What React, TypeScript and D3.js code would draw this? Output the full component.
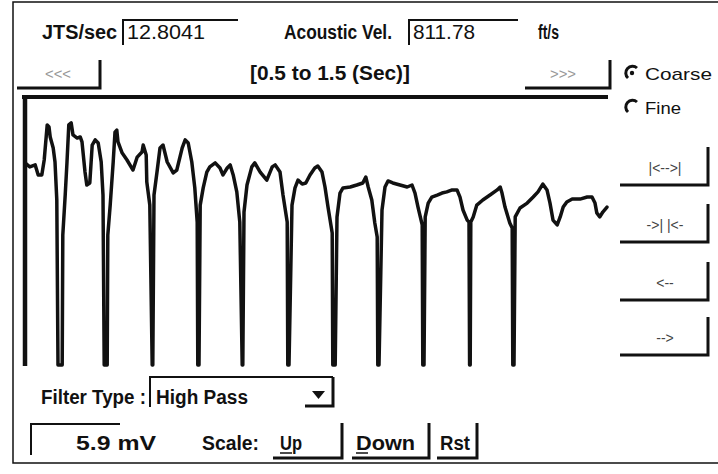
import * as d3 from "d3";
import React from "react";

// acoustic trace: time in ms, amplitude in mV (dips clip at -6)
const timesMs = [
  500, 508, 517, 522, 528, 532, 537, 540, 542, 547, 550, 553, 555, 562, 563, 567, 570, 573, 577, 580,
  587, 592, 595, 600, 603, 608, 612, 617, 622, 627, 630, 632, 637, 638, 642, 647, 650, 653, 655, 662,
  670, 680, 687, 695, 697, 702, 703, 708, 712, 713, 715, 720, 725, 730, 737, 747, 753, 762, 767, 772,
  778, 783, 787, 788, 790, 792, 797, 803, 808, 817, 825, 830, 837, 842, 847, 853, 858, 862, 863, 865,
  870, 878, 883, 892, 903, 912, 917, 925, 930, 937, 938, 940, 945, 950, 955, 962, 968, 975, 983, 988,
  995, 1000, 1005, 1012, 1013, 1017, 1020, 1025, 1030, 1042, 1053, 1063, 1068, 1072, 1078, 1083, 1087, 1088, 1090, 1095,
  1100, 1105, 1113, 1125, 1137, 1145, 1150, 1155, 1162, 1163, 1165, 1167, 1172, 1178, 1187, 1195, 1203, 1212, 1220, 1225,
  1230, 1237, 1240, 1241, 1242, 1243, 1247, 1253, 1263, 1275, 1287, 1292, 1295, 1300, 1308, 1312, 1313, 1315, 1317, 1325,
  1337, 1347, 1355, 1363, 1370, 1375, 1380, 1387, 1392, 1397, 1403, 1412, 1425, 1437, 1445, 1450, 1453, 1458, 1463, 1470,
];
const amplitudeMv = [
  3.05, 2.87, 2.96, 2.51, 2.51, 3.18, 4.75, 4.66, 4.21, 3.72, 3.09, 1.39, -6, -6, -0.18, 1.61, 3.09, 4.75, 4.84, 4.3,
  4.16, 4.21, 3.99, 2.64, 2.06, 2.15, 3.85, 4.08, 3.94, 3.09, 1.61, -6, -6, -0.18, 1.16, 3.09, 4.43, 4.52, 3.99, 3.49,
  3.18, 2.73, 3.31, 3.54, 3.85, 3.4, 2.19, 1.16, -6, -6, 1.61, 2.64, 3.72, 3.85, 3.09, 2.6, 2.73, 3.72, 4.08, 3.94,
  3.09, 1.93, 0.4, -6, -6, 1.16, 1.93, 2.64, 2.87, 3.05, 2.82, 2.51, 2.82, 2.96, 2.51, 1.75, 0.4, -6, -6, 0.85,
  2.06, 2.87, 3.05, 2.64, 2.28, 2.87, 2.96, 2.64, 1.61, 0.4, -6, -6, 1.16, 1.93, 2.28, 2.1, 2.15, 2.51, 2.82, 2.91,
  2.64, 1.97, 1.07, -0.09, -6, -6, 0.63, 1.7, 1.93, 1.97, 2.06, 2.15, 2.42, 1.97, 1.39, 0.36, -0.27, -6, -6, 0.94,
  1.97, 2.24, 2.15, 2.06, 1.97, 2.06, 1.7, 1.07, 0.27, -6, -6, 0.63, 1.25, 1.52, 1.61, 1.7, 1.75, 1.84, 1.84, 1.52,
  0.94, 0.49, 0.4, -6, -6, 0.4, 0.63, 1.16, 1.39, 1.61, 1.84, 1.97, 1.7, 1.07, 0.36, 0.13, -6, -6, 0.63, 1.03,
  1.25, 1.52, 1.75, 2.1, 1.84, 1.25, 0.49, 0.27, 0.63, 1.07, 1.3, 1.43, 1.43, 1.52, 1.52, 1.25, 0.81, 0.63, 0.85, 1.07,
];

// readouts shown around the plot
const jtsPerSec = "12.8041";
const acousticVel = "811.78";
const windowSec = [0.5, 1.5];
const scaleMv = 5.9;
const filterType = "High Pass";

const FONT = "'Liberation Sans', Arial, sans-serif";
const INK = "#111";

function Label({ x, y, w, size = 20, weight = 700, fill = INK, children }: any) {
  return (
    <text
      x={x}
      y={y}
      fontFamily={FONT}
      fontSize={size}
      fontWeight={weight}
      fill={fill}
      textLength={w}
      lengthAdjust="spacingAndGlyphs"
    >
      {children}
    </text>
  );
}

// raised win3.x style button: only the dark right/bottom edges survived the scan
function Btn({ x0, x1, y0, y1 }: any) {
  return (
    <path d={`M${x1},${y0} V${y1} H${x0}`} fill="none" stroke={INK} strokeWidth={3} />
  );
}

// sunken text box: dark top/left edges
function Box({ x0, x1, y0, y1 }: any) {
  return (
    <path d={`M${x0},${y1} V${y0} H${x1}`} fill="none" stroke={INK} strokeWidth={2} />
  );
}

export default function App() {
  const width = 718;
  const height = 474;

  const x = d3.scaleLinear().domain([500, 1500]).range([25, 625]);
  const y = d3.scaleLinear().domain([-6, 6]).range([365, 97]);

  const pts = timesMs.map((t, i) => [t, amplitudeMv[i]] as [number, number]);
  const line = d3
    .line<[number, number]>()
    .x((d) => x(d[0]))
    .y((d) => y(d[1]));

  const rightButtons = [
    { label: "|<-->|", y: 185 },
    { label: "->| |<-", y: 242 },
    { label: "<--", y: 300 },
    { label: "-->", y: 355 },
  ];

  return (
    <svg
      width={width}
      height={height}
      viewBox={`0 0 ${width} ${height}`}
      style={{ position: "absolute", left: 0, top: 0, background: "#fff" }}
    >
      {/* outer frame */}
      <path d={`M718,2 H13 V463 H718`} fill="none" stroke={INK} strokeWidth={1.5} />

      {/* row 1: readouts */}
      <Label x={42} y={39} w={75}>JTS/sec</Label>
      <Box x0={123} x1={238} y0={20} y1={45} />
      <Label x={127} y={39} w={78} weight={400}>{jtsPerSec}</Label>
      <Label x={284} y={39} w={108}>Acoustic Vel.</Label>
      <Box x0={409} x1={518} y0={20} y1={45} />
      <Label x={413} y={39} w={62} weight={400}>{acousticVel}</Label>
      <Label x={538} y={39} w={21}>ft/s</Label>

      {/* row 2: window navigation */}
      <Btn x0={17} x1={100} y0={60} y1={88} />
      <Label x={45} y={79} w={26} size={14} weight={400} fill="#999">{"<<<"}</Label>
      <Label x={250} y={80} w={160}>{`[${windowSec[0]} to  ${windowSec[1]} (Sec)]`}</Label>
      <Btn x0={525} x1={610} y0={60} y1={88} />
      <Label x={550} y={79} w={26} size={14} weight={400} fill="#999">{">>>"}</Label>

      {/* coarse / fine radios */}
      <path d="M628,78 A6,6 0 0 1 637,68" fill="none" stroke={INK} strokeWidth={3} />
      <circle cx={632} cy={73} r={2.2} fill={INK} />
      <Label x={645} y={80} w={67} size={17} weight={400}>Coarse</Label>
      <path d="M628,112 A6,6 0 0 1 637,102" fill="none" stroke={INK} strokeWidth={3} />
      <Label x={645} y={114} w={36} size={17} weight={400}>Fine</Label>

      {/* right-hand buttons */}
      {rightButtons.map((b) => (
        <g key={b.label}>
          <Btn x0={620} x1={708} y0={b.y - 38} y1={b.y} />
          <text
            x={665}
            y={b.y - 12}
            textAnchor="middle"
            fontFamily={FONT}
            fontSize={14}
            fill="#444"
          >
            {b.label}
          </text>
        </g>
      ))}

      {/* plot frame */}
      <line x1={22} x2={608} y1={97} y2={97} stroke={INK} strokeWidth={4} />
      <line x1={25} x2={25} y1={95} y2={366} stroke={INK} strokeWidth={4.5} />

      {/* waveform */}
      <path
        d={line(pts) ?? ""}
        fill="none"
        stroke={INK}
        strokeWidth={3.5}
        strokeLinejoin="round"
        strokeLinecap="round"
      />

      {/* filter selector */}
      <Label x={41} y={404} w={105}>Filter Type :</Label>
      <path d="M150,407 V377 H333" fill="none" stroke={INK} strokeWidth={2} />
      <path d="M333,377 V406 H305" fill="none" stroke={INK} strokeWidth={3} />
      <Label x={156} y={404} w={92}>{filterType}</Label>
      <path d="M312,391 H325 L318.5,399 Z" fill={INK} />

      {/* scale row */}
      <Box x0={31} x1={120} y0={424} y1={455} />
      <Label x={76} y={450} w={80}>{`${scaleMv}  mV`}</Label>
      <Label x={202} y={450} w={57}>Scale:</Label>
      <Btn x0={273} x1={342} y0={423} y1={458} />
      <Label x={280} y={450} w={22}>Up</Label>
      <line x1={280} x2={292} y1={453} y2={453} stroke={INK} strokeWidth={1.5} />
      <Btn x0={352} x1={429} y0={423} y1={458} />
      <Label x={356} y={450} w={59}>Down</Label>
      <line x1={356} x2={368} y1={453} y2={453} stroke={INK} strokeWidth={1.5} />
      <Btn x0={437} x1={477} y0={423} y1={458} />
      <Label x={440} y={450} w={30}>Rst</Label>
    </svg>
  );
}
